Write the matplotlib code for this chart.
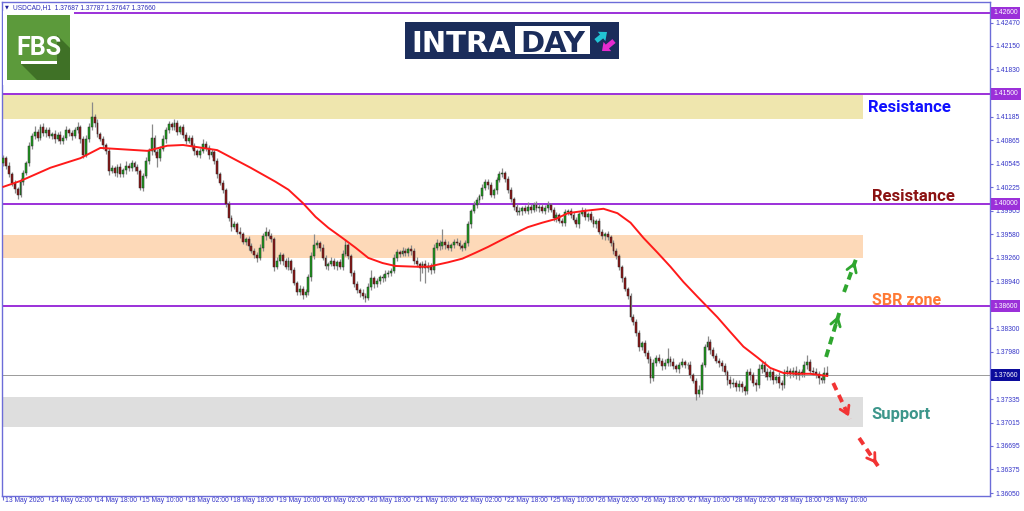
# USDCAD H1 intraday chart: candles, 50-bar MA, levels and zones

import numpy as np
import matplotlib
matplotlib.use("Agg")
import matplotlib.pyplot as plt
from matplotlib.patches import Rectangle, Polygon, FancyArrow
from matplotlib.transforms import blended_transform_factory, ScaledTranslation

plt.rcParams['font.family'] = ['Liberation Sans', 'DejaVu Sans']

# prices in pips above BASE, one bar per hour from 13 May 2020 10:00
BASE = 1.3700
first_open = 355
close_pips = [
    362, 352, 340, 328, 320, 312, 330, 342, 355, 378,
    392, 398, 390, 404, 396, 400, 392, 395, 388, 394,
    386, 390, 400, 396, 392, 400, 404, 388, 366, 388,
    404, 418, 410, 395, 388, 380, 372, 345, 348, 342,
    350, 340, 346, 352, 348, 355, 350, 344, 322, 338,
    358, 372, 390, 370, 362, 375, 388, 400, 408, 404,
    410, 398, 404, 394, 386, 390, 378, 372, 366, 372,
    382, 376, 366, 370, 358, 340, 328, 318, 300, 280,
    268, 272, 262, 258, 248, 252, 242, 236, 230, 226,
    240, 256, 262, 256, 252, 214, 222, 230, 222, 214,
    222, 210, 192, 180, 184, 176, 180, 200, 228, 244,
    246, 240, 226, 215, 218, 222, 215, 220, 214, 232,
    244, 228, 206, 190, 182, 178, 174, 172, 186, 198,
    190, 194, 200, 198, 204, 206, 208, 226, 234, 232,
    236, 233, 238, 236, 222, 218, 212, 218, 212, 215,
    210, 240, 246, 242, 248, 244, 240, 244, 248, 246,
    242, 240, 246, 272, 290, 298, 305, 310, 322, 330,
    325, 312, 318, 332, 340, 342, 334, 318, 306, 296,
    288, 290, 294, 290, 296, 292, 298, 294, 296, 290,
    294, 298, 292, 280, 284, 276, 274, 288, 290, 284,
    278, 272, 286, 290, 282, 286, 278, 272, 276, 262,
    256, 258, 254, 246, 236, 228, 214, 198, 184, 174,
    146, 138, 124, 104, 110, 96, 88, 62, 82, 90,
    86, 78, 82, 88, 84, 78, 74, 80, 84, 80,
    80, 66, 58, 40, 46, 80, 104, 112, 100, 92,
    86, 82, 78, 70, 60, 54, 56, 50, 54, 50,
    44, 70, 66, 56, 52, 74, 80, 70, 64, 70,
    60, 64, 56, 52, 70, 72, 68, 72, 66, 70,
    68, 80, 84, 72, 70, 68, 62, 60, 68.7, 66,
]
wick_up = [
    4, 3, 5, 3, 4, 3, 5, 4, 3, 6,
    5, 8, 4, 5, 6, 4, 5, 3, 6, 4,
    5, 4, 6, 3, 5, 4, 7, 3, 4, 5,
    6, 21, 4, 5, 3, 4, 3, 4, 5, 3,
    4, 5, 3, 6, 4, 5, 3, 4, 3, 4,
    5, 4, 18, 4, 5, 3, 6, 4, 5, 4,
    5, 4, 3, 5, 4, 3, 4, 5, 3, 4,
    6, 3, 4, 5, 3, 4, 3, 4, 3, 4,
    5, 4, 3, 6, 4, 3, 4, 5, 3, 4,
    5, 4, 6, 3, 4, 3, 5, 4, 3, 4,
    5, 3, 4, 3, 5, 4, 3, 4, 6, 14,
    4, 3, 5, 4, 3, 5, 4, 3, 4, 5,
    8, 3, 4, 3, 4, 3, 5, 4, 6, 12,
    4, 5, 3, 4, 6, 3, 4, 5, 4, 3,
    5, 4, 3, 6, 4, 5, 3, 4, 5, 6,
    4, 5, 6, 4, 17, 4, 5, 3, 4, 5,
    4, 3, 5, 4, 3, 5, 4, 3, 5, 4,
    3, 5, 4, 5, 4, 6, 3, 4, 5, 3,
    4, 5, 3, 4, 6, 3, 4, 5, 4, 3,
    4, 5, 3, 4, 5, 3, 4, 5, 3, 4,
    5, 4, 3, 5, 4, 3, 4, 5, 3, 4,
    3, 4, 5, 3, 4, 3, 4, 3, 4, 3,
    4, 3, 5, 4, 3, 4, 5, 4, 6, 4,
    5, 4, 6, 15, 4, 5, 3, 4, 5, 3,
    4, 5, 3, 4, 6, 4, 5, 7, 4, 5,
    4, 3, 5, 4, 3, 5, 6, 4, 5, 4,
    3, 5, 6, 4, 5, 7, 4, 5, 6, 4,
    5, 4, 6, 3, 5, 6, 4, 5, 7, 4,
    5, 6, 10, 4, 5, 6, 4, 5, 9, 10,
]
wick_dn = [
    4, 5, 3, 4, 5, 6, 3, 4, 3, 4,
    3, 4, 5, 3, 4, 5, 3, 4, 5, 3,
    4, 5, 3, 4, 5, 3, 4, 5, 4, 3,
    4, 3, 5, 4, 3, 5, 4, 6, 3, 4,
    5, 3, 4, 5, 3, 4, 5, 3, 4, 5,
    3, 4, 5, 3, 12, 4, 3, 5, 4, 3,
    4, 5, 3, 4, 5, 3, 4, 5, 3, 4,
    3, 4, 5, 3, 4, 5, 3, 4, 5, 4,
    5, 3, 4, 5, 3, 4, 5, 3, 4, 5,
    3, 4, 5, 3, 4, 6, 3, 4, 5, 3,
    4, 5, 3, 4, 5, 6, 3, 4, 5, 3,
    4, 5, 3, 4, 5, 3, 4, 5, 3, 4,
    3, 4, 5, 3, 4, 5, 4, 6, 3, 4,
    5, 3, 4, 5, 3, 4, 5, 3, 4, 5,
    3, 4, 5, 6, 4, 5, 17, 6, 20, 5,
    6, 4, 3, 5, 4, 6, 3, 4, 5, 3,
    4, 5, 3, 4, 5, 3, 4, 5, 3, 4,
    5, 3, 4, 5, 3, 4, 5, 3, 4, 5,
    3, 4, 5, 3, 4, 5, 3, 4, 5, 3,
    4, 5, 3, 4, 5, 3, 4, 5, 3, 4,
    3, 4, 5, 3, 4, 5, 3, 4, 5, 3,
    4, 5, 3, 4, 5, 3, 4, 5, 3, 4,
    5, 3, 4, 5, 3, 4, 5, 7, 4, 3,
    4, 5, 3, 4, 5, 3, 4, 5, 3, 4,
    5, 4, 3, 8, 4, 5, 3, 4, 5, 3,
    4, 5, 6, 4, 7, 5, 4, 6, 5, 7,
    5, 4, 6, 5, 7, 4, 5, 6, 4, 5,
    6, 5, 7, 6, 4, 5, 6, 4, 5, 7,
    5, 4, 6, 5, 4, 6, 8, 5, 4, 1.3,
]

# moving average (bar index, pips above BASE)
ma_bar = [0, 6, 16.5, 27, 34, 50.5, 57.5, 63, 75, 86.7, 95.4, 100, 105, 109.5,
          114, 119, 123.5, 128, 133, 137.5, 144.6, 149, 156, 161, 165.6, 170,
          177, 184, 189, 193.7, 198, 203.5, 210.5, 215.4, 220, 224.6, 229.5,
          234, 238.6, 243.5, 247, 250.5, 255, 259.6, 264.6, 269, 273.7, 278.6,
          283, 289]
ma_pips = [323, 331, 349, 362, 376, 372, 379, 380, 373, 349, 330, 319, 301, 282,
           267, 253, 240, 226, 219, 215, 214, 214, 220, 225, 233, 241,
           255, 268, 274, 279, 287, 290, 293, 287, 274, 253, 233,
           214, 193, 173, 159, 145, 125, 105, 90, 76, 69, 68,
           68, 65]

levels = [1.42600, 1.41500, 1.40000, 1.38600]
last_price = 1.37660
zone_low = [1.4116, 1.3926, 1.3696]
zone_high = [1.4148, 1.3957, 1.3736]
zone_colors = ['#efe6ae', '#fdd9b8', '#dedede']

price_ticks = [1.42470, 1.42150, 1.41830, 1.41185, 1.40865, 1.40545, 1.40225,
               1.39905, 1.39580, 1.39260, 1.38940, 1.38300, 1.37980, 1.37335,
               1.37015, 1.36695, 1.36375, 1.36050]
time_labels = ["13 May 2020", "14 May 02:00", "14 May 18:00", "15 May 10:00",
               "18 May 02:00", "18 May 18:00", "19 May 10:00", "20 May 02:00",
               "20 May 18:00", "21 May 10:00", "22 May 02:00", "22 May 18:00",
               "25 May 10:00", "26 May 02:00", "26 May 18:00", "27 May 10:00",
               "28 May 02:00", "28 May 18:00", "29 May 10:00"]
header = "USDCAD,H1  1.37687 1.37787 1.37647 1.37660"

# ---- build OHLC
n = len(close_pips)
x = np.arange(n)
c = BASE + np.array(close_pips) / 1e4
o = np.r_[BASE + first_open / 1e4, c[:-1]]
hi = np.maximum(o, c) + np.array(wick_up) / 1e4
lo = np.minimum(o, c) - np.array(wick_dn) / 1e4

frame = '#6c6cd8'
purple = '#9b30d9'

fig = plt.figure(figsize=(10.24, 5.11), dpi=100)
ax = fig.add_axes([2 / 1024, 15 / 511, 988 / 1024, 494 / 511])
ax.set_xlim(-0.5, 346.1)
ax.set_ylim(1.36013, 1.42750)

for zl, zh, zc in zip(zone_low, zone_high, zone_colors):
    ax.fill_between([-0.5, 301.6], zl, zh, color=zc, lw=0, zorder=0)

for lv in levels:
    ax.axhline(lv, color=purple, lw=1.4, zorder=2)
ax.axhline(last_price, color='#9a9a9a', lw=0.7, zorder=2)

# candles
ax.vlines(x, lo, hi, color='#8a8a8a', lw=0.9, zorder=3)
body_col = np.where(c >= o, '#1e9e1e', '#8e1414')
ax.bar(x, c - o, bottom=o, width=0.66, color=body_col, edgecolor='#2a2a2a',
       linewidth=0.35, zorder=4)

ax.plot(ma_bar, BASE + np.array(ma_pips) / 1e4, color='#ff1a1a', lw=1.4, zorder=5)

# axes look
for s in ax.spines.values():
    s.set_color(frame)
    s.set_linewidth(1)
ax.yaxis.tick_right()
ax.set_yticks(price_ticks)
ax.set_yticklabels([f"{t:.5f}" for t in price_ticks])
ax.tick_params(axis='y', direction='out', length=2.2, width=0.8, color=frame,
               labelsize=4.9, labelcolor='#3535c8', pad=1.5)
ax.set_xticks(x[::16][:len(time_labels)])
ax.set_xticklabels(time_labels, ha='left')
ax.tick_params(axis='x', direction='out', length=2.9, width=0.8, color=frame,
               labelsize=4.9, labelcolor='#3535c8', pad=-2.0)
shift = ScaledTranslation(1.8 / 100, 0, fig.dpi_scale_trans)
for t in ax.get_xticklabels():
    t.set_transform(t.get_transform() + shift)

trans = blended_transform_factory(ax.transAxes, ax.transData)
for lv in levels:
    ax.text(1.0035, lv, f"{lv:.5f}", transform=trans, ha='left', va='center',
            fontsize=4.9, color='white', clip_on=False,
            bbox=dict(boxstyle='square,pad=0.35', fc=purple, ec='none'))
ax.text(1.0035, last_price, f"{last_price:.5f}", transform=trans, ha='left',
        va='center', fontsize=4.9, color='white', clip_on=False,
        bbox=dict(boxstyle='square,pad=0.35', fc='#0c0c9c', ec='none'))

# zone labels
lab = dict(fontsize=12, fontweight='bold', family='Roboto', va='baseline', ha='left', zorder=6)
ax.text(303.4, 1.41254, "Resistance", color='#1010ff', **lab)
ax.text(304.6, 1.40030, "Resistance", color='#8b1212', **lab)
ax.text(304.6, 1.38612, "SBR zone", color='#ff7a35', **dict(lab, fontsize=11.5))
ax.text(304.6, 1.37066, "Support", color='#3d968b', **lab)

# dashed scenario arrows
arrows = [((288.6, 1.37909), (293.2, 1.38509), '#2fa62f'),
          ((294.9, 1.38795), (299.1, 1.39245), '#2fa62f'),
          ((291.1, 1.37554), (297.0, 1.37063), '#f23434'),
          ((300.2, 1.36804), (306.8, 1.36422), '#f23434')]
for (x0, y0), (x1, y1), col in arrows:
    ax.plot([x0, x1], [y0, y1], color=col, lw=2.8, ls=(0, (2, 1.4)),
            solid_capstyle='butt', zorder=6)
    ax.annotate('', xy=(x1, y1), xytext=(x1 - 0.3 * (x1 - x0), y1 - 0.3 * (y1 - y0)),
                arrowprops=dict(arrowstyle='->,head_length=0.55,head_width=0.35',
                                color=col, lw=2.0), zorder=6)

# ---- overlay in pixel coordinates for header and logos
ov = fig.add_axes([0, 0, 1, 1])
ov.set_xlim(0, 1024)
ov.set_ylim(511, 0)
ov.axis('off')
ov.patch.set_visible(False)

ov.text(4.5, 7.2, "\u25bc", fontsize=3.6, color='#1f1f9a', family='DejaVu Sans', va='center')
ov.text(13, 7.2, header, fontsize=4.8, color='#2b2bb8', va='center')

# FBS logo
ov.add_patch(Rectangle((3, 11), 71, 74, fc='white', ec='none'))
ov.add_patch(Rectangle((7, 15), 63, 65, fc='#5c9a3b', ec='none'))
ov.add_patch(Polygon([(57, 35), (70, 48), (70, 80), (37, 80), (21, 64), (57, 64)],
                     closed=True, fc='#3f7126', ec='none'))
ov.text(38.5, 55, "FBS", fontsize=18, fontweight='bold', family='Roboto',
        color='white', ha='center', va='baseline')
ov.add_patch(Rectangle((21, 61), 36, 3, fc='white', ec='none'))

# INTRADAY logo
ov.add_patch(Rectangle((405, 22), 214, 37, fc='#1b2d5b', ec='none'))
ov.text(411, 51.5, "INTRA", fontsize=21, fontweight='bold', family='DejaVu Sans',
        color='white', ha='left', va='baseline')
ov.add_patch(Rectangle((515, 26), 75, 28, fc='white', ec='none'))
ov.text(552.5, 51.5, "DAY", fontsize=21, fontweight='bold', family='DejaVu Sans',
        color='#1b2d5b', ha='center', va='baseline')
ov.add_patch(FancyArrow(596, 41, 11, -9, width=5, head_width=12, head_length=7,
                        length_includes_head=True, fc='#22c5d5', ec='none'))
ov.add_patch(FancyArrow(614, 41, -12, 10, width=5, head_width=12, head_length=7,
                        length_includes_head=True, fc='#e52bcf', ec='none'))

fig.savefig("out.png", dpi=100)
